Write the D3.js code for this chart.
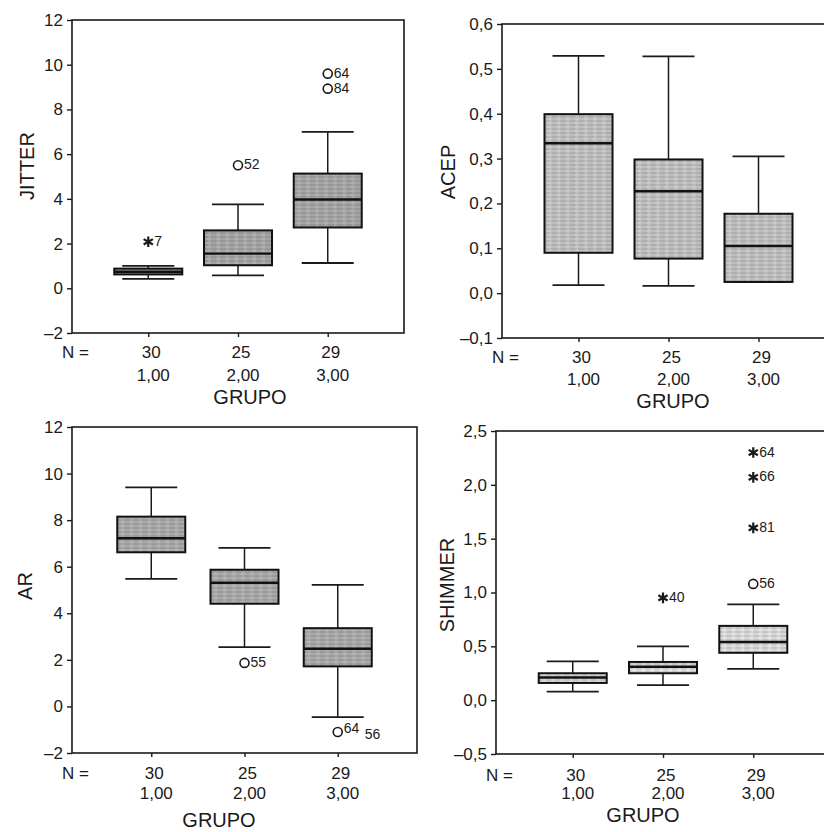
<!DOCTYPE html>
<html>
<head>
<meta charset="utf-8">
<script src="https://cdn.jsdelivr.net/npm/d3@7"></script>
<style>
  body { margin: 0; background: #fff; }
  svg { display: block; font-family: "Liberation Sans", Arial, sans-serif; }
</style>
</head>
<body>
<script>
const WIDTH = 824;
const HEIGHT = 832;

// shared categories
const groups = [1, 2, 3];
const groupLabels = ["1,00", "2,00", "3,00"];
const groupN = ["30", "25", "29"];

// box stats: [low whisker, Q1, median, Q3, high whisker]
const jitterBoxes = [[0.42, 0.62, 0.74, 0.88, 1.0], [0.58, 1.03, 1.55, 2.59, 3.75], [1.13, 2.72, 3.97, 5.13, 7.0]];
const jitterOutliers = [
  {group: 1, value: 2.08, id: "7", extreme: true},
  {group: 2, value: 5.5, id: "52"},
  {group: 3, value: 9.6, id: "64"},
  {group: 3, value: 8.93, id: "84"},
];
const jitterTicks = [-2, 0, 2, 4, 6, 8, 10, 12];

const acepBoxes = [[0.018, 0.09, 0.334, 0.399, 0.529], [0.016, 0.077, 0.227, 0.298, 0.528], [0.025, 0.025, 0.105, 0.177, 0.305]];
const acepOutliers = [];
const acepTicks = [-0.1, 0, 0.1, 0.2, 0.3, 0.4, 0.5, 0.6];

const arBoxes = [[5.48, 6.62, 7.22, 8.15, 9.41], [2.55, 4.41, 5.31, 5.87, 6.81], [-0.46, 1.72, 2.48, 3.36, 5.22]];
const arOutliers = [
  {group: 2, value: 1.87, id: "55"},
  {group: 3, value: -1.1, id: "64"},
  {group: 3, value: -1.1, id: "56"},
];
const arTicks = [-2, 0, 2, 4, 6, 8, 10, 12];

const shimmerBoxes = [[0.08, 0.16, 0.21, 0.25, 0.36], [0.14, 0.25, 0.31, 0.355, 0.50], [0.29, 0.44, 0.54, 0.69, 0.89]];
const shimmerOutliers = [
  {group: 2, value: 0.95, id: "40", extreme: true},
  {group: 3, value: 1.08, id: "56"},
  {group: 3, value: 1.6, id: "81", extreme: true},
  {group: 3, value: 2.07, id: "66", extreme: true},
  {group: 3, value: 2.30, id: "64", extreme: true},
];
const shimmerTicks = [-0.5, 0, 0.5, 1.0, 1.5, 2.0, 2.5];

const comma1 = v => d3.format(".1f")(v).replace(".", ",");
const intFmt = v => d3.format("d")(v);

const panels = [
  {title: "JITTER", boxes: jitterBoxes, outliers: jitterOutliers, ticks: jitterTicks, fmt: intFmt,
   x: 72, y: 20, w: 332, h: 313, fill: "#a4a4a4", titleX: 27, titleY: 166, grupoX: 250, nDy: 25, gDy: 48, grupoDy: 71},
  {title: "ACEP", boxes: acepBoxes, outliers: acepOutliers, ticks: acepTicks, fmt: comma1,
   x: 502, y: 24, w: 333, h: 314, fill: "#bebebe", titleX: 448, titleY: 172, grupoX: 673, nDy: 25, gDy: 47, grupoDy: 70},
  {title: "AR", boxes: arBoxes, outliers: arOutliers, ticks: arTicks, fmt: intFmt,
   x: 72, y: 427, w: 345, h: 326, fill: "#a8a8a8", titleX: 25, titleY: 586, grupoX: 219, nDy: 26, gDy: 46, grupoDy: 74},
  {title: "SHIMMER", boxes: shimmerBoxes, outliers: shimmerOutliers, ticks: shimmerTicks, fmt: comma1,
   x: 496, y: 431, w: 334, h: 323, fill: "#d6d6d6", titleX: 447, titleY: 585, grupoX: 643, nDy: 27, gDy: 45, grupoDy: 68},
];

const svg = d3.select("body").append("svg")
  .attr("width", WIDTH)
  .attr("height", HEIGHT);

// halftone-ish texture over box fills
const defs = svg.append("defs");
panels.forEach((p, i) => {
  const pat = defs.append("pattern")
    .attr("id", "tex" + i)
    .attr("patternUnits", "userSpaceOnUse")
    .attr("width", 9).attr("height", 4);
  pat.append("rect").attr("width", 9).attr("height", 4).attr("fill", p.fill);
  pat.append("line").attr("x1", 0).attr("x2", 6).attr("y1", 1).attr("y2", 1)
    .attr("stroke", d3.color(p.fill).darker(0.5)).attr("stroke-width", 1);
  pat.append("line").attr("x1", 5).attr("x2", 9).attr("y1", 3).attr("y2", 3)
    .attr("stroke", d3.color(p.fill).brighter(0.35)).attr("stroke-width", 1);
});

panels.forEach((p, i) => drawPanel(p, i));

function drawPanel(p, i) {
  const g = svg.append("g").attr("transform", `translate(${p.x},${p.y})`);
  const yDom = d3.extent(p.ticks);
  const y = d3.scaleLinear().domain(yDom).range([p.h, 0]);
  const x = d3.scalePoint().domain(groups).range([0, p.w]).padding(0.85);
  const boxW = 68, capW = 52;

  // frame
  g.append("rect")
    .attr("width", p.w).attr("height", p.h)
    .attr("fill", "none").attr("stroke", "#1a1a1a").attr("stroke-width", 1.6);

  // y axis
  const yAxis = g.append("g")
    .call(d3.axisLeft(y).tickValues(p.ticks).tickFormat(p.fmt).tickSize(5).tickPadding(4));
  yAxis.select(".domain").remove();
  yAxis.selectAll("line").attr("stroke", "#1a1a1a").attr("stroke-width", 1.4);
  yAxis.selectAll("text").attr("font-size", 17).attr("fill", "#1a1a1a")
    .text(d => p.fmt(d).replace("−", "–"));

  // x ticks
  const xAxis = g.append("g").attr("transform", `translate(0,${p.h})`)
    .call(d3.axisBottom(x).tickSize(4).tickFormat(""));
  xAxis.select(".domain").remove();
  xAxis.selectAll("line").attr("stroke", "#1a1a1a").attr("stroke-width", 1.4);

  // boxes
  const data = p.boxes.map((b, k) => ({group: groups[k], lo: b[0], q1: b[1], med: b[2], q3: b[3], hi: b[4]}));
  const box = g.selectAll(".box").data(data).join("g").attr("class", "box")
    .attr("transform", d => `translate(${x(d.group)},0)`);

  box.append("line").attr("y1", d => y(d.hi)).attr("y2", d => y(d.q3))
    .attr("stroke", "#1a1a1a").attr("stroke-width", 1.5);
  box.append("line").attr("y1", d => y(d.q1)).attr("y2", d => y(d.lo))
    .attr("stroke", "#1a1a1a").attr("stroke-width", 1.5);
  box.append("line").attr("x1", -capW / 2).attr("x2", capW / 2)
    .attr("y1", d => y(d.hi)).attr("y2", d => y(d.hi))
    .attr("stroke", "#1a1a1a").attr("stroke-width", 1.8);
  box.append("line").attr("x1", -capW / 2).attr("x2", capW / 2)
    .attr("y1", d => y(d.lo)).attr("y2", d => y(d.lo))
    .attr("stroke", "#1a1a1a").attr("stroke-width", 1.8);
  box.append("rect")
    .attr("x", -boxW / 2).attr("width", boxW)
    .attr("y", d => y(d.q3)).attr("height", d => y(d.q1) - y(d.q3))
    .attr("fill", `url(#tex${i})`).attr("stroke", "#111").attr("stroke-width", 2);
  box.append("line").attr("x1", -boxW / 2).attr("x2", boxW / 2)
    .attr("y1", d => y(d.med)).attr("y2", d => y(d.med))
    .attr("stroke", "#111").attr("stroke-width", 2.4);

  // outliers
  const seen = {};
  p.outliers.forEach(o => {
    const cx = x(o.group), cy = y(o.value);
    const key = o.group + ":" + o.value;
    const nth = seen[key] || 0;
    seen[key] = nth + 1;
    const shared = p.outliers.filter(q => q.group === o.group && q.value === o.value).length > 1;
    if (nth === 0) {
      if (o.extreme) {
        g.append("path")
          .attr("d", d3.symbol(d3.symbolAsterisk, 80)())
          .attr("transform", `translate(${cx},${cy})`)
          .attr("fill", "none").attr("stroke", "#1a1a1a").attr("stroke-width", 2.2);
      } else {
        g.append("circle").attr("cx", cx).attr("cy", cy).attr("r", 4.5)
          .attr("fill", "none").attr("stroke", "#1a1a1a").attr("stroke-width", 1.6);
      }
    }
    g.append("text")
      .attr("x", cx + (nth === 0 ? 6 : 27))
      .attr("y", cy + (nth === 0 ? (shared ? -4 : -1) : 2))
      .attr("dominant-baseline", "central")
      .attr("font-size", 14).attr("fill", "#1a1a1a")
      .text(o.id);
  });

  // bottom labels
  g.append("text").attr("x", -10).attr("y", p.h + p.nDy)
    .attr("font-size", 17).attr("fill", "#1a1a1a").text("N =");
  g.selectAll(".nlab").data(groups).join("text").attr("class", "nlab")
    .attr("x", d => x(d) + 3).attr("y", p.h + p.nDy)
    .attr("text-anchor", "middle").attr("font-size", 17).attr("fill", "#1a1a1a")
    .text((d, k) => groupN[k]);
  g.selectAll(".glab").data(groups).join("text").attr("class", "glab")
    .attr("x", d => x(d) + 5).attr("y", p.h + p.gDy)
    .attr("text-anchor", "middle").attr("font-size", 17).attr("fill", "#1a1a1a")
    .text((d, k) => groupLabels[k]);

  svg.append("text").attr("x", p.grupoX).attr("y", p.y + p.h + p.grupoDy)
    .attr("text-anchor", "middle").attr("font-size", 20).attr("fill", "#1a1a1a").text("GRUPO");

  svg.append("text")
    .attr("transform", `translate(${p.titleX},${p.titleY}) rotate(-90)`)
    .attr("text-anchor", "middle").attr("dominant-baseline", "central")
    .attr("font-size", 20).attr("fill", "#1a1a1a").text(p.title);
}
</script>
</body>
</html>
